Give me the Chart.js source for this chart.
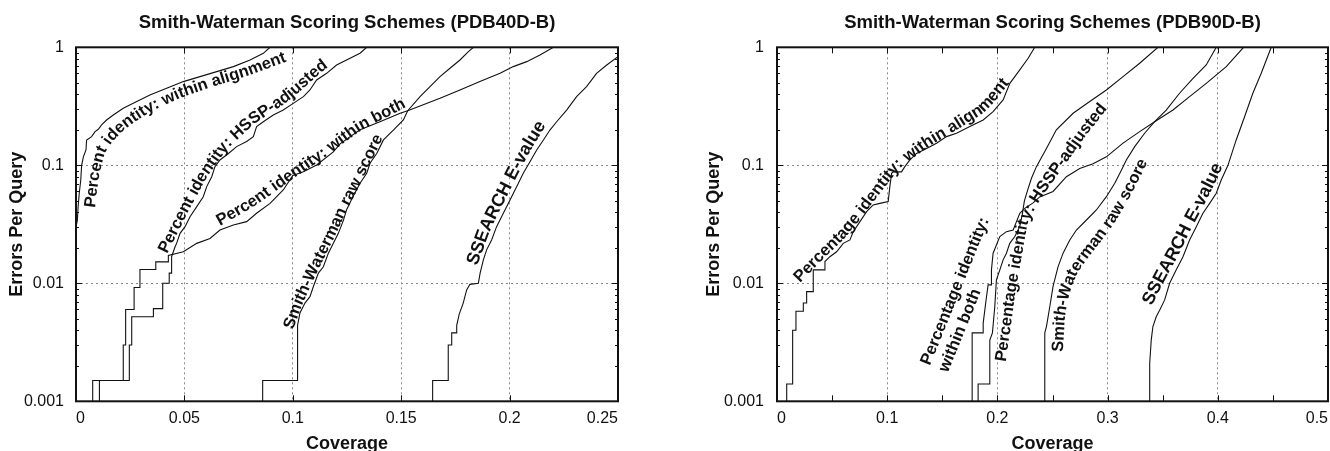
<!DOCTYPE html>
<html>
<head>
<meta charset="utf-8">
<title>Smith-Waterman Scoring Schemes</title>
<script src="https://cdn.jsdelivr.net/npm/chart.js@4"></script>
<style>
  html, body { margin: 0; padding: 0; background: #fff; overflow: hidden; }
  #wrap { position: relative; width: 1330px; height: 451px; }
  canvas { position: absolute; top: 0; }
</style>
</head>
<body>
<div id="wrap">
  <canvas id="pdb40" width="690" height="451" style="left:0"></canvas>
  <canvas id="pdb90" width="640" height="451" style="left:690px"></canvas>
</div>
<script>
// ---- PDB40D-B (left panel): coverage vs errors per query ----
const a40Cov = [0, 0, 0.0006, 0.001, 0.0015, 0.0022, 0.0026, 0.0034, 0.0046, 0.0049, 0.0072, 0.0088, 0.0103, 0.0118, 0.0141, 0.0172, 0.0218, 0.028, 0.0341, 0.0418, 0.0495, 0.0572, 0.0649, 0.0726, 0.0803, 0.0864, 0.0895];
const a40Epq = [0.001, 0.03, 0.034, 0.045, 0.058, 0.075, 0.1, 0.118, 0.135, 0.164, 0.175, 0.193, 0.202, 0.22, 0.242, 0.267, 0.304, 0.347, 0.394, 0.45, 0.512, 0.564, 0.622, 0.686, 0.781, 0.889, 1];

const h40Cov = [0.0108, 0.0108, 0.0246, 0.0246, 0.0257, 0.0257, 0.0357, 0.0357, 0.04, 0.04, 0.043, 0.043, 0.0441, 0.0441, 0.0457, 0.0464, 0.048, 0.0503, 0.0526, 0.0557, 0.0587, 0.0603, 0.0626, 0.0641, 0.0664, 0.0703, 0.0741, 0.0787, 0.0818, 0.0833, 0.0864, 0.091, 0.0956, 0.1002, 0.1049, 0.1079, 0.111, 0.1156, 0.1202, 0.1264, 0.131, 0.1341];
const h40Epq = [0.001, 0.0015, 0.0015, 0.003, 0.003, 0.0052, 0.0052, 0.0061, 0.0061, 0.01, 0.01, 0.0122, 0.0122, 0.0168, 0.0204, 0.0218, 0.0265, 0.0302, 0.0367, 0.0446, 0.0542, 0.066, 0.08, 0.0974, 0.111, 0.126, 0.144, 0.159, 0.175, 0.213, 0.234, 0.267, 0.294, 0.335, 0.382, 0.435, 0.529, 0.602, 0.708, 0.807, 0.89, 1];

const b40Cov = [0.0077, 0.0077, 0.0218, 0.0218, 0.0229, 0.0229, 0.0268, 0.0268, 0.0295, 0.0295, 0.0368, 0.0368, 0.0426, 0.0426, 0.0495, 0.0557, 0.0618, 0.0664, 0.0726, 0.0787, 0.0833, 0.0895, 0.0956, 0.1, 0.1049, 0.111, 0.1187, 0.1218, 0.131, 0.1402, 0.1495, 0.153, 0.1679, 0.1771, 0.1863, 0.1956, 0.2017, 0.2079, 0.214, 0.2202];
const b40Epq = [0.001, 0.0015, 0.0015, 0.003, 0.003, 0.006, 0.006, 0.0092, 0.0092, 0.0131, 0.0131, 0.0152, 0.0152, 0.0172, 0.0185, 0.0218, 0.024, 0.0283, 0.0312, 0.0333, 0.0392, 0.0476, 0.0618, 0.082, 0.0883, 0.1007, 0.13, 0.152, 0.2, 0.234, 0.276, 0.29, 0.37, 0.435, 0.512, 0.602, 0.686, 0.756, 0.861, 1];

const w40Cov = [0.0861, 0.0861, 0.1022, 0.1022, 0.1033, 0.1056, 0.1079, 0.1095, 0.1118, 0.1141, 0.1164, 0.1187, 0.121, 0.1233, 0.1248, 0.1279, 0.131, 0.1341, 0.1356, 0.1387, 0.1418, 0.1464, 0.151, 0.153, 0.1587, 0.1633, 0.1679, 0.1725, 0.1771, 0.181, 0.1833];
const w40Epq = [0.001, 0.0015, 0.0015, 0.0044, 0.0056, 0.0068, 0.0077, 0.0094, 0.0122, 0.0138, 0.018, 0.0218, 0.0265, 0.034, 0.042, 0.055, 0.0704, 0.0855, 0.104, 0.126, 0.164, 0.199, 0.242, 0.29, 0.382, 0.464, 0.564, 0.664, 0.781, 0.918, 1];

const s40Cov = [0.1645, 0.1645, 0.1717, 0.1717, 0.1733, 0.1733, 0.1756, 0.1756, 0.1768, 0.1786, 0.1802, 0.1817, 0.1856, 0.1864, 0.1879, 0.1894, 0.1917, 0.194, 0.1971, 0.2002, 0.2033, 0.2063, 0.2094, 0.2125, 0.2156, 0.2186, 0.2217, 0.2263, 0.2309, 0.2355, 0.2401, 0.2448, 0.25];
const s40Epq = [0.001, 0.0015, 0.0015, 0.003, 0.003, 0.0038, 0.0038, 0.0044, 0.0055, 0.0068, 0.0088, 0.0098, 0.01, 0.0122, 0.0158, 0.0192, 0.0233, 0.0302, 0.0392, 0.0508, 0.066, 0.0855, 0.107, 0.135, 0.164, 0.199, 0.234, 0.294, 0.382, 0.464, 0.602, 0.708, 0.834];

// ---- PDB90D-B (right panel) ----
const a90Cov = [0.0088, 0.0088, 0.0142, 0.0142, 0.0172, 0.0172, 0.0239, 0.0239, 0.0269, 0.0269, 0.0329, 0.0329, 0.0435, 0.0435, 0.048, 0.0541, 0.0601, 0.0662, 0.0692, 0.0753, 0.0813, 0.0873, 0.0934, 0.1009, 0.1024, 0.104, 0.1055, 0.113, 0.116, 0.1206, 0.1266, 0.1357, 0.1448, 0.1538, 0.1629, 0.175, 0.1871, 0.1961, 0.2052, 0.2113, 0.2203, 0.2279, 0.2339];
const a90Epq = [0.001, 0.0014, 0.0014, 0.004, 0.004, 0.0058, 0.0058, 0.0068, 0.0068, 0.0085, 0.0085, 0.013, 0.013, 0.0153, 0.0168, 0.0185, 0.0218, 0.0233, 0.0274, 0.0333, 0.0405, 0.0461, 0.0476, 0.0492, 0.066, 0.0855, 0.088, 0.088, 0.0974, 0.111, 0.126, 0.139, 0.154, 0.175, 0.187, 0.213, 0.242, 0.285, 0.358, 0.495, 0.643, 0.807, 1];

const b90Cov = [0.1771, 0.1771, 0.1871, 0.1871, 0.1901, 0.1916, 0.1946, 0.1946, 0.1961, 0.2022, 0.2082, 0.2143, 0.2173, 0.2203, 0.2248, 0.2324, 0.2384, 0.2505, 0.2626, 0.2747, 0.2868, 0.2989, 0.314, 0.3291, 0.3427, 0.3593, 0.3744, 0.3895, 0.4077, 0.4234];
const b90Epq = [0.001, 0.0038, 0.0038, 0.0046, 0.0077, 0.0097, 0.0097, 0.013, 0.018, 0.0249, 0.0274, 0.0283, 0.0333, 0.0392, 0.0432, 0.048, 0.054, 0.06, 0.08, 0.094, 0.103, 0.118, 0.154, 0.193, 0.234, 0.294, 0.382, 0.495, 0.686, 1];

const h90Cov = [0.1825, 0.1825, 0.1931, 0.1931, 0.1955, 0.1976, 0.1991, 0.2022, 0.2052, 0.2082, 0.2112, 0.2158, 0.2203, 0.2225, 0.2245, 0.2275, 0.231, 0.2354, 0.2445, 0.2535, 0.2687, 0.2838, 0.2989, 0.314, 0.3291, 0.3457];
const h90Epq = [0.001, 0.0014, 0.0014, 0.0033, 0.0038, 0.0063, 0.0107, 0.013, 0.0158, 0.018, 0.0218, 0.0249, 0.0302, 0.038, 0.05, 0.062, 0.078, 0.0974, 0.139, 0.2, 0.276, 0.347, 0.435, 0.564, 0.732, 1];

const w90Cov = [0.243, 0.243, 0.2445, 0.2475, 0.2505, 0.255, 0.2596, 0.2657, 0.2717, 0.2808, 0.2898, 0.2989, 0.3065, 0.3126, 0.317, 0.3246, 0.3336, 0.3427, 0.3532, 0.3653, 0.3775, 0.3895, 0.3986];
const w90Epq = [0.001, 0.0038, 0.0043, 0.0063, 0.0094, 0.0138, 0.018, 0.0233, 0.0283, 0.0344, 0.0418, 0.0542, 0.0704, 0.0913, 0.111, 0.144, 0.187, 0.234, 0.294, 0.408, 0.546, 0.708, 1];

const s90Cov = [0.3382, 0.3382, 0.3396, 0.3411, 0.3441, 0.3472, 0.3517, 0.3563, 0.3623, 0.3684, 0.3744, 0.3805, 0.3865, 0.3926, 0.3986, 0.4031, 0.4092, 0.4167, 0.4243, 0.4318, 0.4394, 0.4485];
const s90Epq = [0.001, 0.0021, 0.0033, 0.0043, 0.0052, 0.0059, 0.0072, 0.01, 0.013, 0.0168, 0.0233, 0.0302, 0.0392, 0.0476, 0.058, 0.075, 0.1, 0.164, 0.258, 0.408, 0.602, 1];

// ---- axes ----
const yTicks = [0.001, 0.01, 0.1, 1];
const yLabels = ['0.001', '0.01', '0.1', '1'];
const x40Ticks = [0, 0.05, 0.1, 0.15, 0.2, 0.25];
const x40Labels = ['0', '0.05', '0.1', '0.15', '0.2', '0.25'];
const x40Marks = [0.05, 0.1, 0.15, 0.2];
const x90Ticks = [0, 0.1, 0.2, 0.3, 0.4, 0.5];
const x90Labels = ['0', '0.1', '0.2', '0.3', '0.4', '0.5'];
const x90Marks = [0.05, 0.1, 0.15, 0.2, 0.25, 0.3, 0.35, 0.4, 0.45];

// ---- curve captions, laid along a baseline given as [coverage, errors] points ----
const labels40 = [
  { text: 'Percent identity: within alignment', size: 16.5,
    path: [[0.0088, 0.0435], [0.0106, 0.0828], [0.0134, 0.1297], [0.018, 0.17], [0.0249, 0.2197], [0.0341, 0.283], [0.048, 0.372], [0.0641, 0.47], [0.0803, 0.582], [0.0964, 0.75]] },
  { text: 'Percent identity: HSSP-adjusted', size: 16.5,
    path: [[0.042, 0.0177], [0.0512, 0.0387], [0.0604, 0.0796], [0.0697, 0.1375], [0.0821, 0.224], [0.0987, 0.357], [0.1144, 0.642], [0.124, 0.86]] },
  { text: 'Percent identity: within both', size: 16.5,
    path: [[0.0664, 0.0306], [0.0826, 0.0452], [0.0987, 0.0736], [0.1149, 0.1175], [0.131, 0.1953], [0.155, 0.331]] },
  { text: 'Smith-Waterman raw score', size: 16.5,
    path: [[0.1001, 0.00402], [0.1042, 0.00654], [0.1089, 0.01005], [0.1139, 0.0157], [0.1195, 0.0252], [0.125, 0.0418], [0.131, 0.068], [0.1365, 0.111], [0.1411, 0.164]] },
  { text: 'SSEARCH E-value', size: 18,
    path: [[0.185, 0.014], [0.1914, 0.0294], [0.1979, 0.0508], [0.2043, 0.0877], [0.2103, 0.14], [0.2168, 0.219]] }
];
const labels90 = [
  { text: 'Percentage identity: within alignment', size: 16.5,
    path: [[0.0209, 0.01006], [0.0408, 0.0157], [0.0617, 0.0242], [0.0807, 0.0402], [0.097, 0.0642], [0.1133, 0.0986], [0.1387, 0.146], [0.1659, 0.207], [0.1913, 0.294], [0.2131, 0.528]] },
  { text: 'Percentage identity:', size: 16.5, path: [[0.1387, 0.00199], [0.1886, 0.0283]] },
  { text: 'within both', size: 16.5, path: [[0.155, 0.00174], [0.2049, 0.0247]] },
  { text: 'Percentage identity: HSSP-adjusted', size: 16.5,
    path: [[0.2076, 0.00215], [0.2167, 0.00877], [0.2276, 0.0331], [0.2384, 0.0508], [0.2566, 0.0877], [0.2792, 0.1738], [0.3046, 0.3436]] },
  { text: 'Smith-Waterman raw score', size: 16.5,
    path: [[0.2593, 0.00262], [0.2611, 0.00508], [0.2647, 0.00811], [0.272, 0.012], [0.282, 0.0164], [0.2937, 0.0224], [0.3055, 0.0318], [0.3173, 0.048], [0.3282, 0.075], [0.3373, 0.111]] },
  { text: 'SSEARCH E-value', size: 18,
    path: [[0.34, 0.00642], [0.3518, 0.01067], [0.3645, 0.0174], [0.3762, 0.0294], [0.388, 0.047], [0.3989, 0.075], [0.4071, 0.111]] }
];

const ink = '#111111';
const family = '"Liberation Sans", Arial, Helvetica, sans-serif';
Chart.defaults.font.family = family;
Chart.defaults.color = ink;

// box around the plot, inward tick marks, log minor ticks
const framePlugin = {
  id: 'frame',
  afterDatasetsDraw(chart, args, opts) {
    const { ctx, chartArea: a, scales: { x, y } } = chart;
    ctx.save();
    ctx.strokeStyle = ink;
    ctx.lineWidth = 1;
    ctx.beginPath();
    opts.marks.forEach(v => {
      const px = Math.round(x.getPixelForValue(v)) + 0.5;
      ctx.moveTo(px, a.bottom); ctx.lineTo(px, a.bottom - 6);
      ctx.moveTo(px, a.top); ctx.lineTo(px, a.top + 6);
    });
    for (let d = -3; d < 0; d++) {
      for (let m = 1; m <= 9; m++) {
        const py = Math.round(y.getPixelForValue(m * Math.pow(10, d))) + 0.5;
        const len = m === 1 ? 6 : 3;
        ctx.moveTo(a.left, py); ctx.lineTo(a.left + len, py);
        ctx.moveTo(a.right, py); ctx.lineTo(a.right - len, py);
      }
    }
    ctx.stroke();
    ctx.lineWidth = 2;
    ctx.strokeRect(a.left, a.top, a.right - a.left, a.bottom - a.top);
    ctx.restore();
  }
};

function textOnPath(ctx, text, pts) {
  const cum = [0];
  for (let i = 1; i < pts.length; i++) {
    cum.push(cum[i - 1] + Math.hypot(pts[i].x - pts[i - 1].x, pts[i].y - pts[i - 1].y));
  }
  const at = s => {
    let i = 1;
    while (i < pts.length - 1 && cum[i] < s) i++;
    const p = pts[i - 1], q = pts[i];
    const t = (s - cum[i - 1]) / (cum[i] - cum[i - 1]);
    return { x: p.x + (q.x - p.x) * t, y: p.y + (q.y - p.y) * t };
  };
  let s = 0;
  for (const ch of text) {
    const w = ctx.measureText(ch).width;
    const p0 = at(s), p1 = at(s + w);
    ctx.save();
    ctx.translate(p0.x, p0.y);
    ctx.rotate(Math.atan2(p1.y - p0.y, p1.x - p0.x));
    ctx.fillText(ch, 0, 0);
    ctx.restore();
    s += w;
  }
}

const captionPlugin = {
  id: 'captions',
  afterDatasetsDraw(chart, args, opts) {
    const { ctx, scales: { x, y } } = chart;
    ctx.save();
    ctx.fillStyle = ink;
    ctx.textBaseline = 'alphabetic';
    ctx.textAlign = 'left';
    opts.items.forEach(l => {
      ctx.font = 'bold ' + l.size + 'px ' + family;
      const pts = l.path.map(p => ({ x: x.getPixelForValue(p[0]), y: y.getPixelForValue(p[1]) }));
      textOnPath(ctx, l.text, pts);
    });
    ctx.restore();
  }
};

function series(cov, epq) {
  return {
    data: cov.map((c, i) => ({ x: c, y: epq[i] })),
    borderColor: ink,
    borderWidth: 1.1,
    pointRadius: 0,
    fill: false,
    tension: 0
  };
}

function gridColor(ctx) {
  const last = ctx.scale.ticks.length - 1;
  return (ctx.index === 0 || ctx.index === last) ? 'rgba(0,0,0,0)' : '#8a8a8a';
}

function buildChart(id, o) {
  return new Chart(document.getElementById(id), {
    type: 'line',
    data: { datasets: o.curves },
    options: {
      responsive: false,
      animation: false,
      devicePixelRatio: 1,
      layout: { padding: { top: 0, left: 0, bottom: 0, right: o.padRight } },
      plugins: {
        legend: { display: false },
        tooltip: { enabled: false },
        title: {
          display: true, text: o.title, fullSize: false, color: ink,
          font: { size: 18.5, weight: 'bold' },
          padding: { top: 11.5, bottom: 13.6 }
        },
        frame: { marks: o.marks },
        captions: { items: o.captions }
      },
      scales: {
        x: {
          type: 'linear', min: 0, max: o.xMax,
          afterBuildTicks: s => { s.ticks = o.xTicks.map(v => ({ value: v })); },
          afterFit: s => { s.height = 49.7; s.paddingLeft = 0; s.paddingRight = 0; },
          ticks: {
            padding: 8, align: 'inner', maxRotation: 0, autoSkip: false, color: ink,
            font: { size: 16 },
            callback: (v, i) => o.xLabels[i]
          },
          grid: { drawTicks: false, color: gridColor, lineWidth: 1 },
          border: { display: false, dash: [2, 3] },
          title: {
            display: true, text: 'Coverage', color: ink,
            font: { size: 18, weight: 'bold', lineHeight: 0.8 },
            padding: { top: 0, bottom: 0 }
          }
        },
        y: {
          type: 'logarithmic', min: 0.001, max: 1,
          afterBuildTicks: s => { s.ticks = yTicks.map(v => ({ value: v })); },
          afterFit: s => { s.width = o.yWidth; s.paddingTop = 0; s.paddingBottom = 0; },
          ticks: {
            padding: o.yPad, autoSkip: false, color: ink,
            font: { size: 16 },
            callback: (v, i) => yLabels[i]
          },
          grid: { drawTicks: false, color: gridColor, lineWidth: 1 },
          border: { display: false, dash: [2, 3] },
          title: {
            display: true, text: 'Errors Per Query', color: ink,
            font: { size: 18, weight: 'bold' },
            padding: { top: o.yTitlePad, bottom: 0 }
          }
        }
      }
    },
    plugins: [framePlugin, captionPlugin]
  });
}

buildChart('pdb40', {
  title: 'Smith-Waterman Scoring Schemes (PDB40D-B)',
  curves: [
    series(a40Cov, a40Epq), series(h40Cov, h40Epq), series(b40Cov, b40Epq),
    series(w40Cov, w40Epq), series(s40Cov, s40Epq)
  ],
  xMax: 0.25, xTicks: x40Ticks, xLabels: x40Labels, marks: x40Marks,
  yWidth: 76, yPad: 12, yTitlePad: 6.7, padRight: 72,
  captions: labels40
});

buildChart('pdb90', {
  title: 'Smith-Waterman Scoring Schemes (PDB90D-B)',
  curves: [
    series(a90Cov, a90Epq), series(b90Cov, b90Epq), series(h90Cov, h90Epq),
    series(w90Cov, w90Epq), series(s90Cov, s90Epq)
  ],
  xMax: 0.5, xTicks: x90Ticks, xLabels: x90Labels, marks: x90Marks,
  yWidth: 87, yPad: 13, yTitlePad: 13.2, padRight: 2,
  captions: labels90
});
</script>
</body>
</html>
